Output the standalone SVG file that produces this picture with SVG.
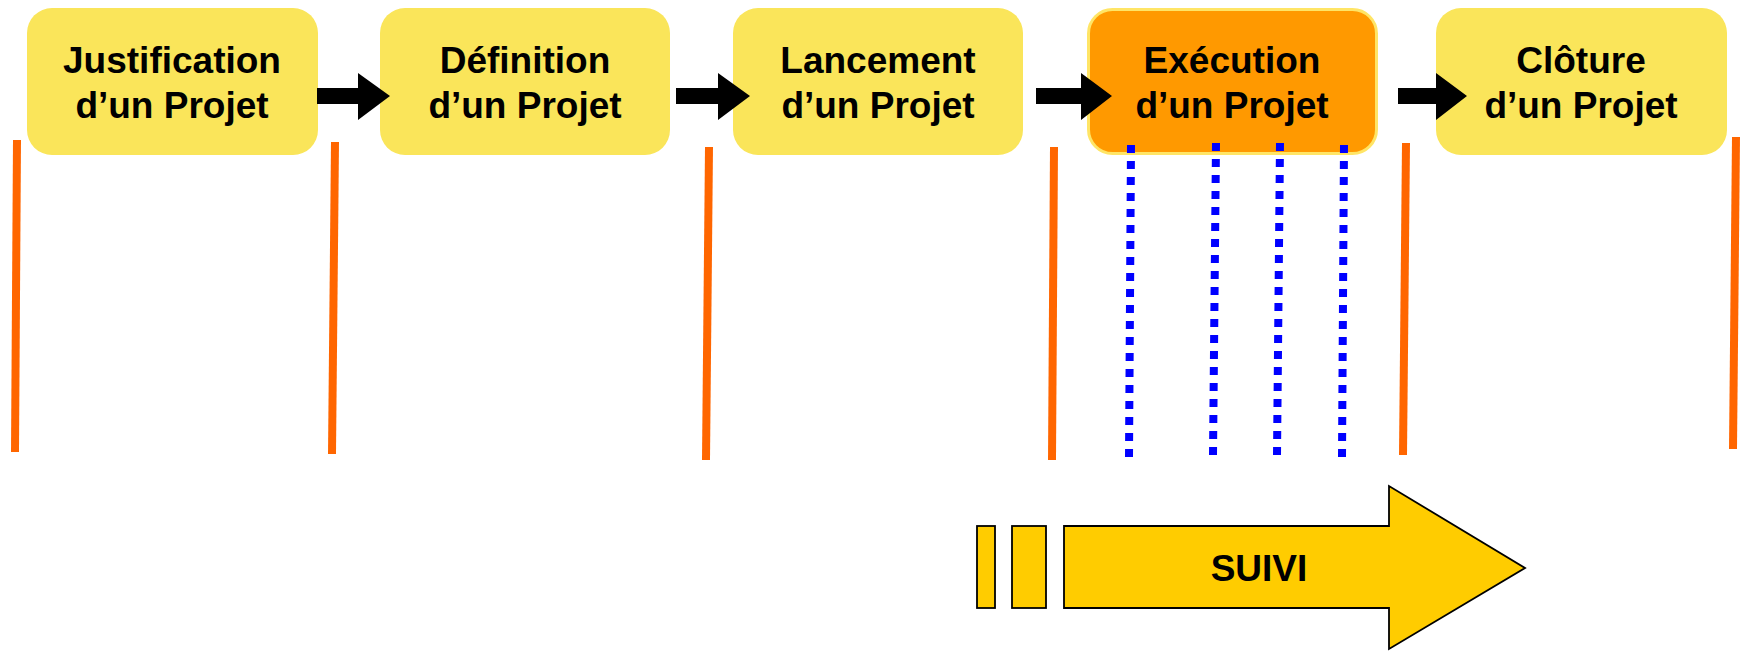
<svg xmlns="http://www.w3.org/2000/svg" width="1747" height="655" viewBox="0 0 1747 655">
<style>
.box{fill:#FAE55A;}
.boxon{fill:#FF9900;stroke:#FFE566;stroke-width:3;}
.lbl{font-family:"Liberation Sans",Arial,sans-serif;font-weight:bold;font-size:37px;fill:#000;text-anchor:middle;}
.arr{fill:#000;}
.sep{stroke:#FF6600;stroke-width:8;fill:none;}
.dot{stroke:#0000FF;stroke-width:8;stroke-dasharray:8 8;fill:none;}
.suivi{fill:#FFCC00;stroke:#000;stroke-width:1.8;}
</style>
<rect width="1747" height="655" fill="#fff"/>
<g id="separators">
<line class="sep" x1="17" y1="140" x2="15" y2="452"/>
<line class="sep" x1="335" y1="142" x2="332" y2="454"/>
<line class="sep" x1="709" y1="147" x2="706" y2="460"/>
<line class="sep" x1="1054" y1="147" x2="1052" y2="460"/>
<line class="sep" x1="1406" y1="143" x2="1403" y2="455"/>
<line class="sep" x1="1736" y1="137" x2="1733" y2="449"/>
</g>
<g id="n1">
<rect class="box" x="27" y="8" width="291" height="147" rx="25"/>
<text class="lbl" x="172" y="73">Justification</text>
<text class="lbl" x="172" y="118">d’un Projet</text>
</g>
<g id="n2">
<rect class="box" x="380" y="8" width="290" height="147" rx="25"/>
<text class="lbl" x="525" y="73">Définition</text>
<text class="lbl" x="525" y="118">d’un Projet</text>
</g>
<g id="n3">
<rect class="box" x="733" y="8" width="290" height="147" rx="25"/>
<text class="lbl" x="878" y="73">Lancement</text>
<text class="lbl" x="878" y="118">d’un Projet</text>
</g>
<g id="n4">
<rect class="boxon" x="1088.5" y="9.5" width="288" height="144" rx="24"/>
<text class="lbl" x="1232" y="73">Exécution</text>
<text class="lbl" x="1232" y="118">d’un Projet</text>
</g>
<g id="n5">
<rect class="box" x="1436" y="8" width="291" height="147" rx="25"/>
<text class="lbl" x="1581" y="73">Clôture</text>
<text class="lbl" x="1581" y="118">d’un Projet</text>
</g>
<g id="connectors">
<polygon class="arr" points="317,88 358,88 358,73 390,96 358,120 358,104 317,104"/>
<polygon class="arr" points="676,88 718,88 718,73 750,96 718,120 718,104 676,104"/>
<polygon class="arr" points="1036,88 1081,88 1081,73 1112,96 1081,120 1081,104 1036,104"/>
<polygon class="arr" points="1398,88 1436,88 1436,73 1467,96 1436,120 1436,104 1398,104"/>
</g>
<g id="milestones">
<line class="dot" x1="1131" y1="145" x2="1129" y2="457"/>
<line class="dot" x1="1216" y1="143" x2="1213" y2="455"/>
<line class="dot" x1="1280" y1="143" x2="1277" y2="455"/>
<line class="dot" x1="1344" y1="145" x2="1342" y2="457"/>
</g>
<g id="suivi">
<rect class="suivi" x="977" y="526" width="18" height="82"/>
<rect class="suivi" x="1012" y="526" width="34" height="82"/>
<polygon class="suivi" points="1064,526 1389,526 1389,486 1525,568 1389,649 1389,608 1064,608"/>
<text class="lbl" x="1259" y="581">SUIVI</text>
</g>
</svg>
